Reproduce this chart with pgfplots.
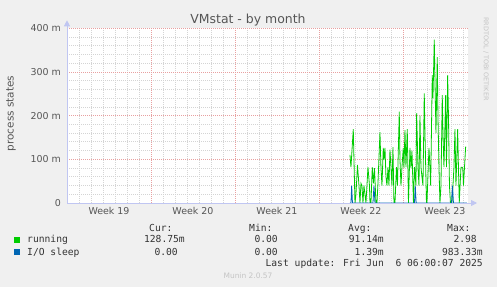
\documentclass[border=0pt]{standalone}
\usepackage{pgfplots}
\pgfplotsset{compat=1.18}
\usepackage{pgfplotstable}
\usepackage{fontspec}
\setmainfont{DejaVu Sans}
\newfontfamily\monofont{DejaVu Sans Mono}
\usetikzlibrary{arrows.meta}
\definecolor{canvas}{HTML}{F0F0F0}
\definecolor{runcol}{HTML}{00CC00}
\definecolor{iocol}{HTML}{0066B3}
\definecolor{gridred}{HTML}{E8A0A0}
\definecolor{gridgray}{HTML}{D4D4D4}
\definecolor{axiscol}{HTML}{C0C6F2}
\definecolor{labelgray}{HTML}{555555}
\definecolor{legtext}{HTML}{333333}
\definecolor{faint}{HTML}{C4C4C4}

\pgfplotstableread{
t v
350 110
351 82
353.3 169
355 0
356 20
357.5 87
359 40
360 0
361 45
362 40
363 0
364 40
366 0
368 82
369.5 40
370 0
371 0
372.3 82
373.5 45
374.5 80
376 0
377 0
378 45
380 162
381 80
382 40
383.3 126
384 100
385 126
386 60
387 40
388 82
389 40
390 122
391 82
392 40
393 128
394 0
395 0
396.5 82
397.5 40
399.3 209
400 100
401 40
402 82
403.3 126
404 80
405 167
406 82
407.3 169
408.5 0
410 126
411 80
412 120
413 40
413.5 0
414.5 82
416 40
416.7 206
418 82
419 40
420 200
421 82
422 60
423 40
424.3 251
425 160
426.5 0
427 0
429 126
430 82
430.7 40
432.3 293
433 240
434.3 374
435 280
436 160
437.3 334
438 200
439 82
440 0
441 40
442.3 247
443 160
444 82
445.7 247
446.5 82
447.7 293
448.5 200
449.5 40
450.5 0
452 0
453 40
454 82
455 169
456 40
457.7 169
458.5 80
459.3 0
461 82
462 82
462.8 80
463.5 40
465.7 129
}\running

\pgfplotstableread{
t v
350 0
351 0
351.7 40
352.5 0
373 0
374 40
375 0
414.5 0
415.3 40
416.2 0
451.5 0
452.5 40
453.5 0
467 0
}\iosleep

\begin{document}
\begin{tikzpicture}
\fill[canvas] (0,0) rectangle (497bp,287bp);
\useasboundingbox (0,0) rectangle (497bp,287bp);
\begin{axis}[
  at={(67bp,84bp)}, anchor=south west,
  scale only axis, width=401bp, height=174.7bp,
  xmin=0, xmax=33.42, ymin=0, ymax=400,
  axis background/.style={fill=white},
  axis line style={draw=none},
  clip mode=individual,
  xtick={3.5,10.5,17.5,24.5,31.5},
  xticklabels={Week 19,Week 20,Week 21,Week 22,Week 23},
  minor xtick={1,2,3,4,5,6,8,9,10,11,12,13,15,16,17,18,19,20,22,23,24,25,26,27,29,30,31,32,33},
  ytick={0,100,200,300,400},
  yticklabels={0,100 m,200 m,300 m,400 m},
  minor ytick={20,40,60,80,120,140,160,180,220,240,260,280,320,340,360,380},
  major tick length=0pt, minor tick length=0pt,
  xmajorgrids=false, xminorgrids=true, ymajorgrids=true, yminorgrids=true,
  major grid style={color=gridred, line width=0.8bp, dash pattern=on 1bp off 1bp},
  minor grid style={color=gridgray, line width=0.8bp, dash pattern=on 1bp off 1bp},
  ticklabel style={font=\fontsize{9.5}{11}\selectfont, color=labelgray},
  yticklabel style={anchor=east, inner sep=0pt, xshift=-6bp},
  xticklabel style={anchor=north, inner sep=0pt, yshift=-4.5bp},
]
% week boundary grid lines
\pgfplotsinvokeforeach{7,14,21,28}{
  \draw[gridred, line width=0.8bp, dash pattern=on 1bp off 1bp] (axis cs:#1,0) -- (axis cs:#1,400);
}
\addplot[runcol, line width=0.8bp] table[x expr={(\thisrow{t}-67)/12}, y=v] {\running};
\addplot[iocol, line width=0.8bp] table[x expr={(\thisrow{t}-67)/12}, y=v] {\iosleep};
\draw[axiscol, line width=0.8bp, -{Triangle[length=6bp,width=6bp]}] (rel axis cs:0,0) -- ([xshift=9bp]rel axis cs:1,0);
\draw[axiscol, line width=0.8bp, -{Triangle[length=6bp,width=6bp]}] (rel axis cs:0,0) -- ([yshift=8bp]rel axis cs:0,1);
\end{axis}
% titles
\node[color=labelgray, font=\fontsize{12.5}{14}\selectfont] at (248bp,267bp) {VMstat - by month};
\node[color=labelgray, font=\fontsize{10.5}{12}\selectfont, rotate=90] at (11bp,173.5bp) {process states};
\node[color=faint, font=\fontsize{6.5}{8}\selectfont, rotate=-90] at (486bp,228bp) {RRDTOOL / TOBI OETIKER};
% legend
\fill[runcol] (14bp,44bp) rectangle (20bp,50bp);
\fill[iocol] (14bp,32bp) rectangle (20bp,38bp);
\begin{scope}[every node/.style={inner sep=0pt, color=legtext, font=\monofont\fontsize{9.7}{11}\selectfont}]
\node[anchor=base west] at (149bp,55.7bp) {Cur:};
\node[anchor=base west] at (249bp,55.7bp) {Min:};
\node[anchor=base west] at (348bp,55.7bp) {Avg:};
\node[anchor=base west] at (447bp,55.7bp) {Max:};
\node[anchor=base west] at (27bp,44bp) {running};
\node[anchor=base east] at (185bp,44bp) {128.75m};
\node[anchor=base east] at (278bp,44bp) {0.00};
\node[anchor=base east] at (384bp,44bp) {91.14m};
\node[anchor=base east] at (477bp,44bp) {2.98};
\node[anchor=base west] at (27bp,32bp) {I/O sleep};
\node[anchor=base east] at (178bp,32bp) {0.00};
\node[anchor=base east] at (278bp,32bp) {0.00};
\node[anchor=base east] at (384bp,32bp) {1.39m};
\node[anchor=base east] at (483bp,32bp) {983.33m};
\node[anchor=base east] at (483bp,20.3bp) {Last update: Fri Jun\ \ 6 06:00:07 2025};
\end{scope}
\node[color=faint, font=\fontsize{7.5}{9}\selectfont] at (248bp,11bp) {Munin 2.0.57};
\end{tikzpicture}
\end{document}
